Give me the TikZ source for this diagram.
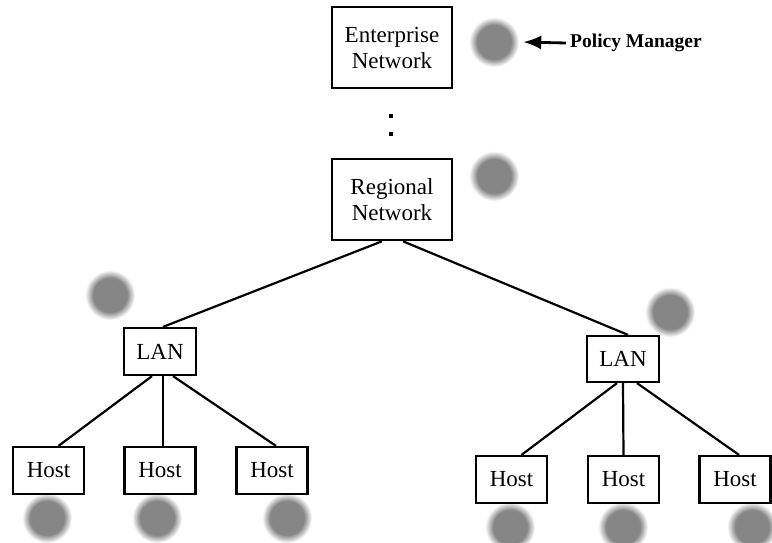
\documentclass[tikz,border=0pt]{standalone}
\usepackage{fontspec}
\setmainfont{Liberation Serif}
\usetikzlibrary{arrows.meta}
\definecolor{dotgray}{RGB}{134,134,134}
\pgfdeclareradialshading{blurdot}{\pgfpoint{0bp}{0bp}}{color(0bp)=(dotgray); color(17bp)=(dotgray); color(25bp)=(white); color(50bp)=(white)}
\tikzset{
  bigbox/.style={draw, line width=2.6pt, minimum width=120pt, minimum height=81pt, align=center, font=\fontsize{23}{26}\selectfont, inner sep=0pt},
  smallbox/.style={draw, line width=2.2pt, minimum width=71pt, minimum height=47pt, font=\fontsize{23}{26}\selectfont, inner sep=0pt},
  pdot/.style={circle, minimum size=50pt, inner sep=0pt, shade, shading=blurdot},
  link/.style={line width=2.2pt},
  sq/.style={fill=black, minimum size=4.5pt, inner sep=0pt}
}
\begin{document}
\begin{tikzpicture}[x=1pt, y=-1pt]
\useasboundingbox (0,0) rectangle (772,542);
% circles (drawn first)
\node[pdot] (c1) at (494,42) {};
\node[pdot] (c2) at (494,176) {};
\node[pdot] (c3) at (110,295) {};
\node[pdot] (c4) at (670,312) {};
\node[pdot] (c5) at (47,518) {};
\node[pdot] (c6) at (157,518) {};
\node[pdot] (c7) at (287,518) {};
\node[pdot] (c8) at (510,527) {};
\node[pdot] (c9) at (623,527) {};
\node[pdot] (c10) at (752,527) {};
% boxes
\node[bigbox] (ent) at (392,47.5) {Enterprise\\Network};
\node[bigbox] (reg) at (392,199.5) {Regional\\Network};
\node[smallbox, minimum width=72pt] (lanL) at (160,351.5) {LAN};
\node[smallbox, minimum width=72pt, minimum height=46pt] (lanR) at (623,359) {LAN};
\node[smallbox] (h1) at (48.5,470.5) {Host};
\node[smallbox] (h2) at (160,470.5) {Host};
\node[smallbox] (h3) at (272,470.5) {Host};
\node[smallbox] (h4) at (511.5,479.5) {Host};
\node[smallbox] (h5) at (623.5,479.5) {Host};
\node[smallbox] (h6) at (735,479.5) {Host};
% dots
\node[sq] (d1) at (391,116) {};
\node[sq] (d2) at (391,134) {};
% policy manager
\node[anchor=west, inner sep=0pt, font=\fontsize{19.5}{22}\selectfont\bfseries] (pm) at (570,43) {Policy Manager};
\draw[line width=2.8pt, -{Latex[length=18pt,width=14pt]}] ([xshift=-4pt]pm.west) -- ([xshift=4pt]c1.east);
% links
\draw[link] ([xshift=-10pt]reg.south) -- ([xshift=3pt]lanL.north);
\draw[link] ([xshift=11pt]reg.south) -- ([xshift=5pt]lanR.north);
\draw[link] ([xshift=-8pt]lanL.south) -- ([xshift=10pt]h1.north);
\draw[link] ([xshift=3pt]lanL.south) -- ([xshift=3pt]h2.north);
\draw[link] ([xshift=13pt]lanL.south) -- ([xshift=4pt]h3.north);
\draw[link] ([xshift=-6pt]lanR.south) -- ([xshift=10pt]h4.north);
\draw[link] (lanR.south) -- (h5.north);
\draw[link] ([xshift=14pt]lanR.south) -- ([xshift=4pt]h6.north);
\end{tikzpicture}
\end{document}
